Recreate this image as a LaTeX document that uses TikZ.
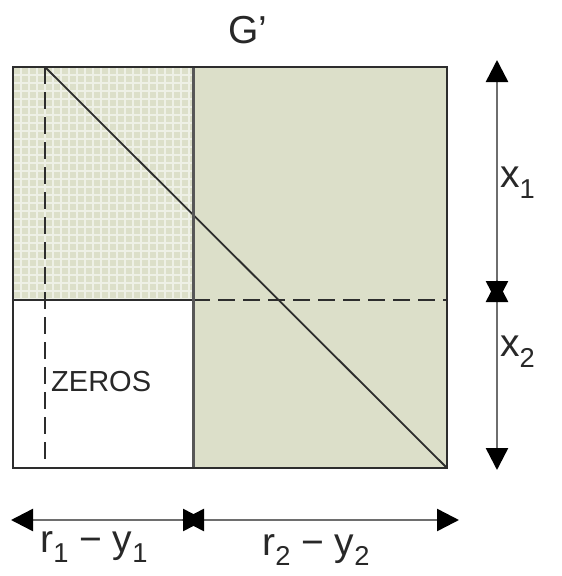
\documentclass[tikz,border=0pt]{standalone}
\usepackage{fontspec}
\usepackage{graphicx}
\setmainfont{Liberation Sans}
\usetikzlibrary{arrows.meta}
\definecolor{sage}{RGB}{220,223,201}
\definecolor{gridline}{RGB}{238,240,230}
\definecolor{edge}{RGB}{45,45,45}
\definecolor{arrowgray}{RGB}{110,110,110}
\definecolor{txt}{RGB}{40,40,40}
\newcommand{\lsub}[1]{\raisebox{-0.28em}{\scalebox{0.7}{#1}}}
\tikzset{
  lbl/.style={text=txt, inner sep=0pt, font=\fontsize{39}{42}\selectfont},
  smalllbl/.style={text=txt, inner sep=0pt, font=\fontsize{29}{32}\selectfont},
  dimarrow/.style={draw=arrowgray, line width=2.5pt, {Triangle[length=22pt,width=22pt,fill=black,color=black]}-{Triangle[length=22pt,width=22pt,fill=black,color=black]}},
  border/.style={draw=edge, line width=2pt},
  divider/.style={draw=edge!80, line width=3pt},
  thinline/.style={draw=edge, line width=1.8pt},
  dashline/.style={draw=edge, line width=1.8pt, dash pattern=on 17pt off 8pt}
}
\begin{document}
\begin{tikzpicture}[x=1pt,y=-1pt]
\useasboundingbox (0,0) rectangle (562,576);
% regions
\fill[sage] (193,67) rectangle (447,468);
\fill[sage] (13,67) rectangle (193,300);
\begin{scope}
\clip (13,67) rectangle (193,300);
\foreach \i in {0,...,22} {
  \draw[gridline, line width=1.7pt] ({13+8*\i},67) -- ({13+8*\i},300);
}
\foreach \j in {0,...,30} {
  \draw[gridline, line width=1.7pt] (13,{67+8*\j}) -- (193,{67+8*\j});
}
\end{scope}
% named points
\coordinate (tl) at (13,67);
\coordinate (br) at (447,468);
\coordinate (divtop) at (193,67);
\coordinate (divbot) at (193,468);
\coordinate (hl) at (13,300);
\coordinate (hm) at (193,300);
\coordinate (hr) at (447,300);
\coordinate (dtop) at (45,67);
\coordinate (dbot) at (45,468);
% lines
\draw[dashline] (dtop) -- (dbot);
\draw[thinline] (hl) -- (hm);
\draw[dashline] (hm) -- (hr);
\draw[thinline] (dtop) -- (br);
\draw[divider] (divtop) -- (divbot);
\draw[border] (tl) rectangle (br);
% right dimension arrows
\coordinate (vt) at (497,60);
\coordinate (vm1) at (497,303);
\coordinate (vm2) at (497,280);
\coordinate (vb) at (497,470);
\draw[dimarrow] (vt) -- (vm1);
\draw[dimarrow] (vm2) -- (vb);
% bottom dimension arrows
\coordinate (hL) at (11,520);
\coordinate (hM1) at (205,520);
\coordinate (hM2) at (182,520);
\coordinate (hR) at (459,520);
\draw[dimarrow] (hL) -- (hM1);
\draw[dimarrow] (hM2) -- (hR);
% labels
\node[lbl] (gp) at (248,30) {G’};
\node[lbl, anchor=west] (x1) at (500,183) {x\lsub{1}};
\node[lbl, anchor=west] (x2) at (500,352) {x\lsub{2}};
\node[lbl] (ry1) at (94,547) {r\lsub{1} − y\lsub{1}};
\node[lbl] (ry2) at (316,550) {r\lsub{2} − y\lsub{2}};
\node[smalllbl, anchor=west] (zeros) at (51,382) {ZEROS};
\end{tikzpicture}
\end{document}
